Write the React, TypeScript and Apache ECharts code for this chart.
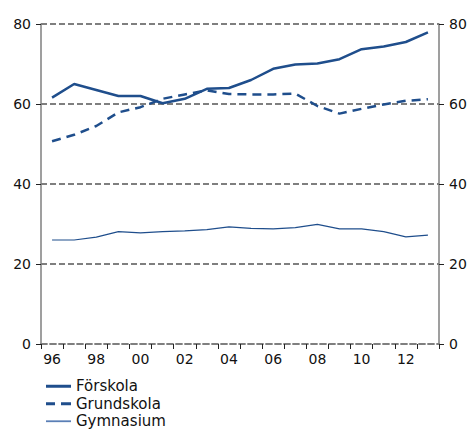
import React, { useEffect, useRef } from "react";
import * as echarts from "echarts";

const years = ["96","97","98","99","00","01","02","03","04","05","06","07","08","09","10","11","12","13"];
const xTickLabels: Record<string, boolean> = { "96": true, "98": true, "00": true, "02": true, "04": true, "06": true, "08": true, "10": true, "12": true };
const forskola = [61.6, 65.0, 63.5, 62.0, 62.0, 60.2, 61.3, 63.8, 64.0, 66.0, 68.8, 69.9, 70.1, 71.2, 73.7, 74.4, 75.5, 77.9];
const grundskola = [50.7, 52.3, 54.5, 57.9, 59.2, 61.3, 62.4, 63.4, 62.5, 62.4, 62.4, 62.6, 59.5, 57.6, 58.8, 59.9, 60.8, 61.2];
const gymnasium = [26.0, 26.0, 26.7, 28.1, 27.8, 28.1, 28.3, 28.6, 29.3, 28.9, 28.8, 29.1, 29.9, 28.8, 28.8, 28.1, 26.8, 27.2];

const BLUE = "#1f4e8c";
const LIGHT_BLUE = "#5a7fb6";
const GRAY = "#7f7f7f";
const FONT = "DejaVu Sans";

export default function App() {
  const ref = useRef<HTMLDivElement>(null);
  useEffect(() => {
    document.body.style.margin = "0";
    if (!ref.current) return;
    const chart = echarts.init(ref.current, undefined, { renderer: "svg" });
    const yAxisCommon = {
      type: "value" as const,
      min: 0,
      max: 80,
      interval: 20,
      axisLine: { show: true, lineStyle: { color: GRAY, width: 1.5 } },
      axisTick: { show: true, length: 5, lineStyle: { color: "#222", width: 1 } },
      axisLabel: { color: "#111", fontSize: 14, fontFamily: FONT, margin: 10 },
    };
    chart.setOption({
      animation: false,
      grid: { left: 41, right: 32, top: 24, bottom: 86, containLabel: false },
      legend: {
        orient: "vertical",
        left: 46,
        top: 377.5,
        height: 60,
        padding: 0,
        itemWidth: 25,
        itemHeight: 3,
        itemGap: 0,
        textStyle: { fontSize: 15, fontFamily: FONT, color: "#111", lineHeight: 17.5 },
        data: [
          { name: "Förskola", icon: "path://M0,0H25V3H0Z", itemStyle: { color: BLUE } },
          { name: "Grundskola", icon: "path://M0,0H9V3H0Z M15,0H25V3H15Z", itemStyle: { color: BLUE } },
          { name: "Gymnasium", icon: "path://M0,0.6H25V2.4H0Z", itemStyle: { color: LIGHT_BLUE } },
        ],
      },
      xAxis: {
        type: "category",
        data: years,
        boundaryGap: true,
        axisLine: { show: true, lineStyle: { color: GRAY, width: 1.8, type: [6, 3] } },
        axisTick: { show: true, length: 5, interval: 0, lineStyle: { color: "#222" } },
        axisLabel: {
          color: "#111",
          fontSize: 14,
          fontFamily: FONT,
          margin: 8,
          interval: 0,
          formatter: (v: string) => (xTickLabels[v] ? v : ""),
        },
        splitLine: { show: false },
      },
      yAxis: [
        {
          ...yAxisCommon,
          position: "left",
          splitLine: { show: true, lineStyle: { color: GRAY, width: 1.8, type: [6, 3] } },
        },
        {
          ...yAxisCommon,
          position: "right",
          splitLine: { show: false },
        },
      ],
      series: [
        {
          name: "Förskola",
          type: "line",
          data: forskola,
          showSymbol: false,
          symbol: "none",
          lineStyle: { color: BLUE, width: 2.5 },
          itemStyle: { color: BLUE },
        },
        {
          name: "Grundskola",
          type: "line",
          data: grundskola,
          showSymbol: false,
          symbol: "none",
          lineStyle: { color: BLUE, width: 2.5, type: [9, 6] },
          itemStyle: { color: BLUE },
        },
        {
          name: "Gymnasium",
          type: "line",
          data: gymnasium,
          showSymbol: false,
          symbol: "none",
          lineStyle: { color: BLUE, width: 1.2 },
          itemStyle: { color: BLUE },
        },
      ],
    });
    return () => chart.dispose();
  }, []);
  return <div ref={ref} style={{ width: 471, height: 430 }} />;
}
